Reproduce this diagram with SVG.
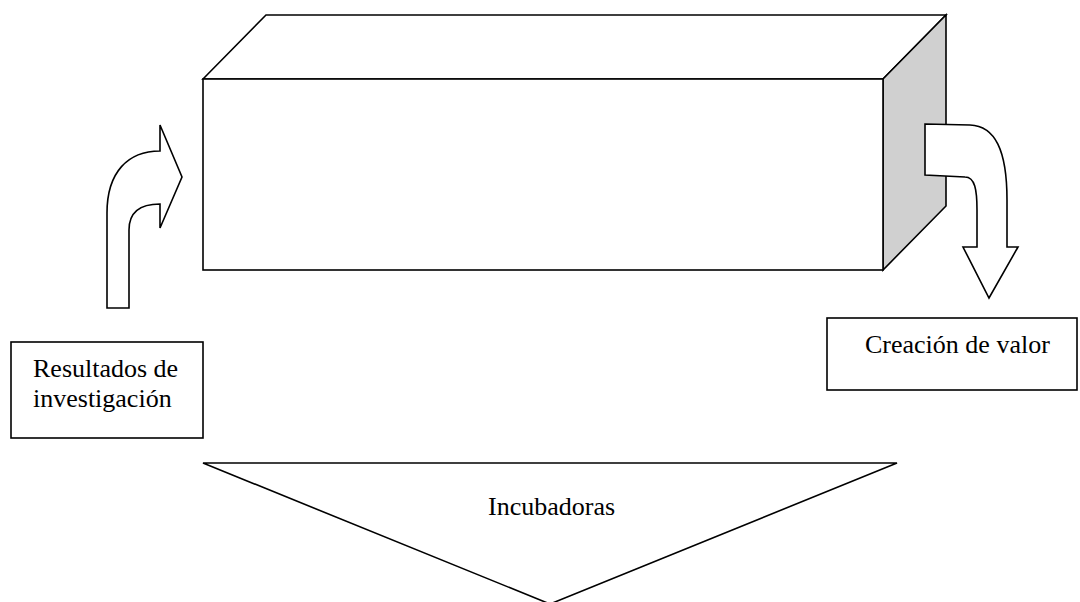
<svg xmlns="http://www.w3.org/2000/svg" width="1080" height="602" viewBox="0 0 1080 602">
  <style>
    .ln { fill: #ffffff; stroke: #000000; stroke-width: 1.6; stroke-linejoin: miter; }
    .side { fill: #d0d0d0; stroke: #000000; stroke-width: 1.6; }
    .lbl { font-family: "Liberation Serif", "Times New Roman", serif; font-size: 26px; fill: #000000; }
  </style>
  <rect width="1080" height="602" fill="#ffffff"/>

  <!-- Block (3D box) -->
  <g id="block">
    <polygon class="ln" points="203,79 266,15 946,15 883,79"/>
    <polygon class="side" points="883,79 946,15 946,206 883,270"/>
    <rect class="ln" x="203" y="79" width="680" height="191"/>
  </g>

  <!-- Incubators funnel -->
  <g id="incubadoras">
    <polygon class="ln" points="203,463 897,463 550,604"/>
    <text class="lbl" x="488" y="515">Incubadoras</text>
  </g>

  <!-- Input label -->
  <g id="resultados">
    <rect class="ln" x="11" y="342" width="192" height="96"/>
    <text class="lbl" x="33" y="377">Resultados de</text>
    <text class="lbl" x="33" y="407">investigación</text>
  </g>

  <!-- Output label -->
  <g id="creacion">
    <rect class="ln" x="827" y="318" width="250" height="72"/>
    <text class="lbl" x="865" y="353">Creación de valor</text>
  </g>

  <!-- Curved block arrows -->
  <g id="connectors">
    <path class="ln" d="M107,308 L107,213 C107,172 128,151 160,151 L160,125 L182,177 L160,228 L160,204 C140,204 129,212 129,230 L129,308 Z"/>
    <path class="ln" d="M925,124 L970,125 C995,126 1007,150 1007,200 L1007,247 L1018,247 L989,298 L963,247 L977,247 L977,210 C977,190 975,177 965,177 L925,175 Z"/>
  </g>
</svg>
